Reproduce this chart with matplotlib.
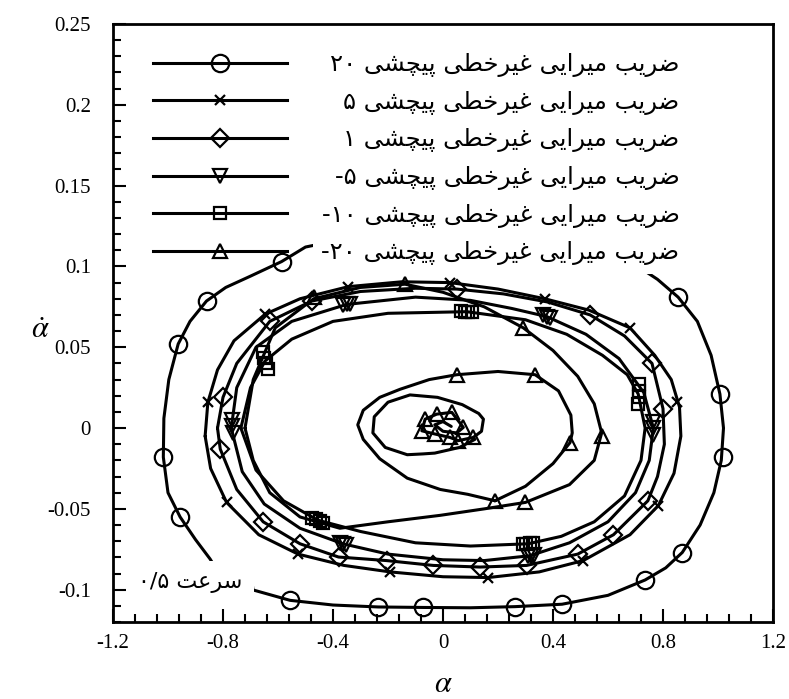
import matplotlib
matplotlib.use("Agg")
import matplotlib.pyplot as plt
from matplotlib.lines import Line2D
from matplotlib.ticker import MultipleLocator

# ---------------- data ----------------
# series: nonlinear torsional damping coefficient
coef_labels_num = ["۲۰", "۵", "۱", "-۵", "-۱۰", "-۲۰"]
label_words = "ضریب میرایی غیرخطی پیچشی"
speed_words = "سرعت"
speed_num = "۰/۵"

# coefficient 20 (circles) - outer limit cycle
c20_x = [-0.80, -0.715, -0.556, -0.40, -0.235, -0.072, 0.10, 0.262, 0.433, 0.60, 0.735, 0.81, 0.87,
         0.935, 0.985, 1.012, 1.02, 1.007, 0.975, 0.925, 0.855, 0.78, 0.70, 0.55, 0.30, 0.0, -0.30,
         -0.50, -0.587, -0.70, -0.79, -0.86, -0.92, -0.963, -0.997, -1.015, -1.017, -1.0, -0.956,
         -0.90, -0.847, -0.80]
c20_y = [-0.094, -0.099, -0.1066, -0.1095, -0.1107, -0.111, -0.1112, -0.1105, -0.109, -0.1035,
         -0.094, -0.0865, -0.077, -0.060, -0.040, -0.020, 0.0, 0.021, 0.045, 0.066, 0.081, 0.092,
         0.101, 0.112, 0.12, 0.122, 0.119, 0.112, 0.103, 0.094, 0.087, 0.0786, 0.066, 0.052, 0.03,
         0.006, -0.018, -0.04, -0.055, -0.069, -0.081, -0.094]
c20_mx = [-0.722, -0.556, -0.235, -0.072, 0.262, 0.433, 0.735, 0.87, 1.019, 1.007, 0.855, 0.70,
          -0.587, -0.86, -0.963, -1.017, -0.956]
c20_my = [-0.099, -0.1066, -0.1107, -0.111, -0.1105, -0.109, -0.094, -0.077, -0.018, 0.021, 0.081,
          0.1035, 0.103, 0.0786, 0.052, -0.018, -0.055]

# coefficient 5 (crosses)
c5_x = [-0.865, -0.855, -0.82, -0.76, -0.647, -0.52, -0.344, -0.15, 0.025, 0.20, 0.37, 0.53, 0.68,
        0.77, 0.83, 0.86, 0.865, 0.84, 0.783, 0.68, 0.51, 0.35, 0.164, 0.0, -0.193, -0.36, -0.527,
        -0.67, -0.787, -0.845, -0.865]
c5_y = [-0.005, 0.016, 0.036, 0.054, 0.0704, 0.080, 0.0875, 0.0905, 0.090, 0.086, 0.080, 0.073,
        0.062, 0.045, 0.030, 0.013, -0.005, -0.028, -0.048, -0.066, -0.082, -0.089, -0.0925,
        -0.092, -0.089, -0.085, -0.078, -0.066, -0.046, -0.025, -0.005]
c5_mx = [-0.855, -0.787, -0.527, -0.193, 0.164, 0.51, 0.783, 0.85, 0.68, 0.37, 0.025, -0.344, -0.647]
c5_my = [0.016, -0.046, -0.078, -0.089, -0.0925, -0.082, -0.048, 0.016, 0.062, 0.080, 0.090,
         0.0875, 0.0704]

# coefficient 1 (diamonds)
c1_x = [-0.82, -0.80, -0.75, -0.63, -0.477, -0.30, -0.10, 0.05, 0.22, 0.38, 0.535, 0.66, 0.76,
        0.80, 0.805, 0.78, 0.745, 0.62, 0.49, 0.304, 0.135, -0.035, -0.205, -0.38, -0.52, -0.654,
        -0.75, -0.81, -0.82]
c1_y = [0.0, 0.019, 0.040, 0.066, 0.0786, 0.0845, 0.0865, 0.086, 0.083, 0.078, 0.070, 0.057,
        0.040, 0.012, -0.010, -0.030, -0.045, -0.066, -0.078, -0.085, -0.086, -0.085, -0.082,
        -0.0798, -0.0716, -0.058, -0.038, -0.013, 0.0]
c1_mx = [-0.80, -0.81, -0.654, -0.52, -0.38, -0.205, -0.035, 0.135, 0.304, 0.49, 0.62, 0.745,
         0.80, 0.76, 0.535, 0.05, -0.477, -0.63]
c1_my = [0.019, -0.013, -0.058, -0.0716, -0.0798, -0.082, -0.085, -0.086, -0.085, -0.078, -0.066,
         -0.045, 0.012, 0.040, 0.070, 0.086, 0.0786, 0.066]

# coefficient -5 (down triangles)
cm5_x = [-0.77, -0.75, -0.68, -0.55, -0.35, -0.10, 0.10, 0.25, 0.377, 0.52, 0.64, 0.73, 0.765,
         0.75, 0.70, 0.60, 0.46, 0.316, 0.15, 0.0, -0.20, -0.364, -0.52, -0.65, -0.73, -0.77]
cm5_y = [0.0, 0.025, 0.050, 0.066, 0.0765, 0.081, 0.079, 0.074, 0.069, 0.058, 0.043, 0.022, 0.0,
         -0.020, -0.040, -0.058, -0.071, -0.079, -0.082, -0.0815, -0.078, -0.0716, -0.062, -0.047,
         -0.027, 0.0]
cm5_mx = [-0.766, -0.766, -0.765, 0.765, 0.765, 0.764, -0.362, -0.350, -0.338, 0.365, 0.377,
          0.389, -0.376, -0.364, -0.352, 0.308, 0.320, 0.332]
cm5_my = [0.005, 0.001, -0.003, 0.004, 0.0, -0.004, 0.0762, 0.0765, 0.0768, 0.0697, 0.069, 0.0683,
          -0.071, -0.0716, -0.0722, -0.0793, -0.079, -0.0787]

# coefficient -10 (squares)
cm10_x = [-0.735, -0.70, -0.647, -0.55, -0.40, -0.20, 0.086, 0.30, 0.45, 0.58, 0.67, 0.71, 0.735,
          0.72, 0.66, 0.55, 0.43, 0.31, 0.10, -0.10, -0.30, -0.455, -0.58, -0.68, -0.735]
cm10_y = [0.0, 0.025, 0.0415, 0.055, 0.066, 0.071, 0.072, 0.067, 0.058, 0.045, 0.033, 0.021, 0.0,
          -0.020, -0.042, -0.058, -0.067, -0.0716, -0.073, -0.071, -0.064, -0.057, -0.045, -0.026,
          0.0]
cm10_mx = [-0.655, -0.650, -0.644, -0.638, -0.475, -0.462, -0.449, -0.436, 0.066, 0.079, 0.092,
           0.105, 0.290, 0.303, 0.316, 0.329, 0.713, 0.712, 0.711, 0.709]
cm10_my = [0.047, 0.0435, 0.040, 0.0365, -0.0555, -0.0565, -0.0575, -0.0585, 0.0722, 0.0721,
           0.072, 0.0718, -0.0718, -0.0716, -0.0714, -0.071, 0.027, 0.023, 0.019, 0.015]

# coefficient -20 (triangles): outer, middle and inner loops, ending at the centre
cm20_outer_x = [-0.72, -0.69, -0.61, -0.47, -0.30, -0.138, 0.0, 0.15, 0.292, 0.40, 0.49, 0.55,
                0.577, 0.55, 0.46, 0.30, 0.15, -0.01, -0.20, -0.375, -0.52, -0.63, -0.69, -0.72]
cm20_outer_y = [0.0, 0.030, 0.062, 0.080, 0.087, 0.089, 0.084, 0.075, 0.062, 0.048, 0.032, 0.015,
                -0.003, -0.020, -0.035, -0.046, -0.050, -0.054, -0.058, -0.062, -0.055, -0.040,
                -0.020, 0.0]
cm20_mid_x = [0.189, 0.09, -0.01, -0.13, -0.23, -0.29, -0.31, -0.29, -0.23, -0.156, -0.05, 0.05,
              0.20, 0.335, 0.42, 0.465, 0.47, 0.462, 0.40, 0.30, 0.189]
cm20_mid_y = [-0.045, -0.041, -0.038, -0.031, -0.019, -0.007, 0.002, 0.011, 0.019, 0.024, 0.030,
              0.033, 0.035, 0.033, 0.023, 0.008, -0.003, -0.009, -0.022, -0.036, -0.045]
cm20_in_x = [0.116, 0.06, -0.03, -0.073, -0.13, -0.21, -0.255, -0.25, -0.20, -0.12, -0.02, 0.07,
             0.13, 0.147, 0.14, 0.11, 0.056, 0.025, -0.029, -0.077, -0.065, -0.023, 0.032, 0.074,
             0.05, 0.0, -0.03, 0.0, 0.03]
cm20_in_y = [-0.007, -0.012, -0.0155, -0.016, -0.0165, -0.012, -0.003, 0.007, 0.016, 0.0205,
             0.019, 0.0145, 0.009, 0.0055, -0.002, -0.0058, -0.0078, -0.0058, -0.0037, -0.0017,
             0.0055, 0.0086, 0.0097, 0.0004, -0.003, -0.002, 0.002, 0.004, 0.001]
cm20_mx = [0.05, 0.335, 0.462, 0.189, 0.30, 0.577, 0.292, -0.138, -0.47, -0.065, -0.023, 0.032,
           -0.077, -0.029, 0.025, 0.056, 0.11, 0.074]
cm20_my = [0.033, 0.033, -0.009, -0.045, -0.046, -0.005, 0.062, 0.089, 0.081, 0.0055, 0.0086,
           0.0097, -0.0017, -0.0037, -0.0058, -0.0078, -0.0058, 0.0004]

# ---------------- Persian text shaping (presentation forms) ----------------
FORMS = {
    'ا': ('\uFE8D', '\uFE8E', None, None),
    'ب': ('\uFE8F', '\uFE90', '\uFE91', '\uFE92'),
    'ت': ('\uFE95', '\uFE96', '\uFE97', '\uFE98'),
    'خ': ('\uFEA5', '\uFEA6', '\uFEA7', '\uFEA8'),
    'ر': ('\uFEAD', '\uFEAE', None, None),
    'س': ('\uFEB1', '\uFEB2', '\uFEB3', '\uFEB4'),
    'ش': ('\uFEB5', '\uFEB6', '\uFEB7', '\uFEB8'),
    'ض': ('\uFEBD', '\uFEBE', '\uFEBF', '\uFEC0'),
    'ط': ('\uFEC1', '\uFEC2', '\uFEC3', '\uFEC4'),
    'ع': ('\uFEC9', '\uFECA', '\uFECB', '\uFECC'),
    'غ': ('\uFECD', '\uFECE', '\uFECF', '\uFED0'),
    'ل': ('\uFEDD', '\uFEDE', '\uFEDF', '\uFEE0'),
    'م': ('\uFEE1', '\uFEE2', '\uFEE3', '\uFEE4'),
    'پ': ('\uFB56', '\uFB57', '\uFB58', '\uFB59'),
    'چ': ('\uFB7A', '\uFB7B', '\uFB7C', '\uFB7D'),
    'ی': ('\uFBFC', '\uFBFD', '\uFBFE', '\uFBFF'),
}


def shape_word(w):
    out = []
    for i, ch in enumerate(w):
        f = FORMS.get(ch)
        if f is None:
            out.append(ch)
            continue
        prev = w[i - 1] if i > 0 else None
        nxt = w[i + 1] if i + 1 < len(w) else None
        jp = prev in FORMS and FORMS[prev][2] is not None
        jn = f[2] is not None and nxt in FORMS
        out.append(f[3] if (jp and jn) else f[1] if jp else f[2] if jn else f[0])
    return ''.join(out)


def rtl(s):
    return ' '.join(shape_word(w) for w in s.split(' '))[::-1]


# ---------------- figure ----------------
plt.rcParams['font.family'] = ['Liberation Serif', 'DejaVu Sans']
plt.rcParams['mathtext.fontset'] = 'stix'

fig = plt.figure(figsize=(7.89, 6.99), dpi=100)
ax = fig.add_axes([0.14322, 0.11016, 0.83650, 0.85551])

LW = 2.2
MEW = 1.6
line_kw = dict(color='black', lw=LW, solid_joinstyle='round', solid_capstyle='round', zorder=2)
mk_kw = dict(ls='none', color='black', mfc='none', mew=MEW, zorder=3)

ax.plot(c20_x, c20_y, **line_kw)
ax.plot(c20_mx, c20_my, marker='o', ms=12.5, **mk_kw)

ax.plot(c5_x, c5_y, **line_kw)
ax.plot(c5_mx, c5_my, marker='x', ms=7, **mk_kw)

ax.plot(c1_x, c1_y, **line_kw)
ax.plot(c1_mx, c1_my, marker='D', ms=9, **mk_kw)

ax.plot(cm5_x, cm5_y, **line_kw)
ax.plot(cm5_mx, cm5_my, marker='v', ms=10, **mk_kw)

ax.plot(cm10_x, cm10_y, **line_kw)
ax.plot(cm10_mx, cm10_my, marker='s', ms=9, **mk_kw)

ax.plot(cm20_outer_x, cm20_outer_y, **line_kw)
ax.plot(cm20_mid_x, cm20_mid_y, **line_kw)
ax.plot(cm20_in_x, cm20_in_y, **line_kw)
ax.plot(cm20_mx, cm20_my, marker='^', ms=10, **mk_kw)

# axes
ax.set_xlim(-1.2, 1.2)
ax.set_ylim(-0.12, 0.25)
ax.xaxis.set_minor_locator(MultipleLocator(0.08))
ax.yaxis.set_minor_locator(MultipleLocator(0.01))
ax.set_xticks([-1.2, -0.8, -0.4, 0, 0.4, 0.8, 1.2])
ax.set_xticklabels(['-1.2', '-0.8', '-0.4', '0', '0.4', '0.8', '1.2'])
ax.set_yticks([-0.1, -0.05, 0, 0.05, 0.1, 0.15, 0.2, 0.25])
ax.set_yticklabels(['-0.1', '-0.05', '0', '0.05', '0.1', '0.15', '0.2', '0.25'])
ax.tick_params(which='both', direction='in', top=False, right=False, labelsize=15, width=1.5)
ax.tick_params(which='major', length=9.5)
ax.tick_params(which='minor', length=6)
ax.tick_params(axis='x', which='major', pad=9)
ax.tick_params(axis='y', which='major', pad=16)
for s in ax.spines.values():
    s.set_linewidth(2.0)

ax.set_xlabel(r'$\alpha$', fontsize=22, va='center')
ax.set_ylabel(r'$\dot{\alpha}$', fontsize=22, rotation=0, va='center', ha='center')
ax.xaxis.set_label_coords(0.5, -0.104)
ax.yaxis.set_label_coords(-0.11, 0.488)

# legend
markers = ['o', 'x', 'D', 'v', 's', '^']
msizes = [12.5, 7, 9, 10, 9, 10]
LEG_FS = 17.5
handles = [Line2D([], [], color='black', lw=LW, marker=m, ms=ms, mfc='none', mew=MEW)
           for m, ms in zip(markers, msizes)]
labels = [n + ' ' + rtl(label_words) for n in coef_labels_num]
leg = ax.legend(handles, labels, loc='upper left', bbox_to_anchor=(0.06, 0.953),
                frameon=False, handlelength=5.55, labelspacing=0.52, handletextpad=1.0,
                borderaxespad=0, borderpad=0, prop=dict(family='DejaVu Sans', size=LEG_FS))
for t in leg.get_texts():
    t.set_bbox(dict(facecolor='white', edgecolor='none', pad=6))
leg.set_zorder(5)

ax.text(-0.728, -0.0955, speed_num + ' ' + rtl(speed_words), ha='right', va='center',
        family='DejaVu Sans', fontsize=16, zorder=5,
        bbox=dict(facecolor='white', edgecolor='none', pad=8))

# right-align legend labels while keeping the line samples at the left
fig.canvas.draw()
entries = [e for col in leg._legend_handle_box.get_children() for e in col.get_children()]
target_w = 527.0
for e in entries:
    e.width = target_w
    e.mode = 'expand'

fig.savefig('out.png', dpi=100)
